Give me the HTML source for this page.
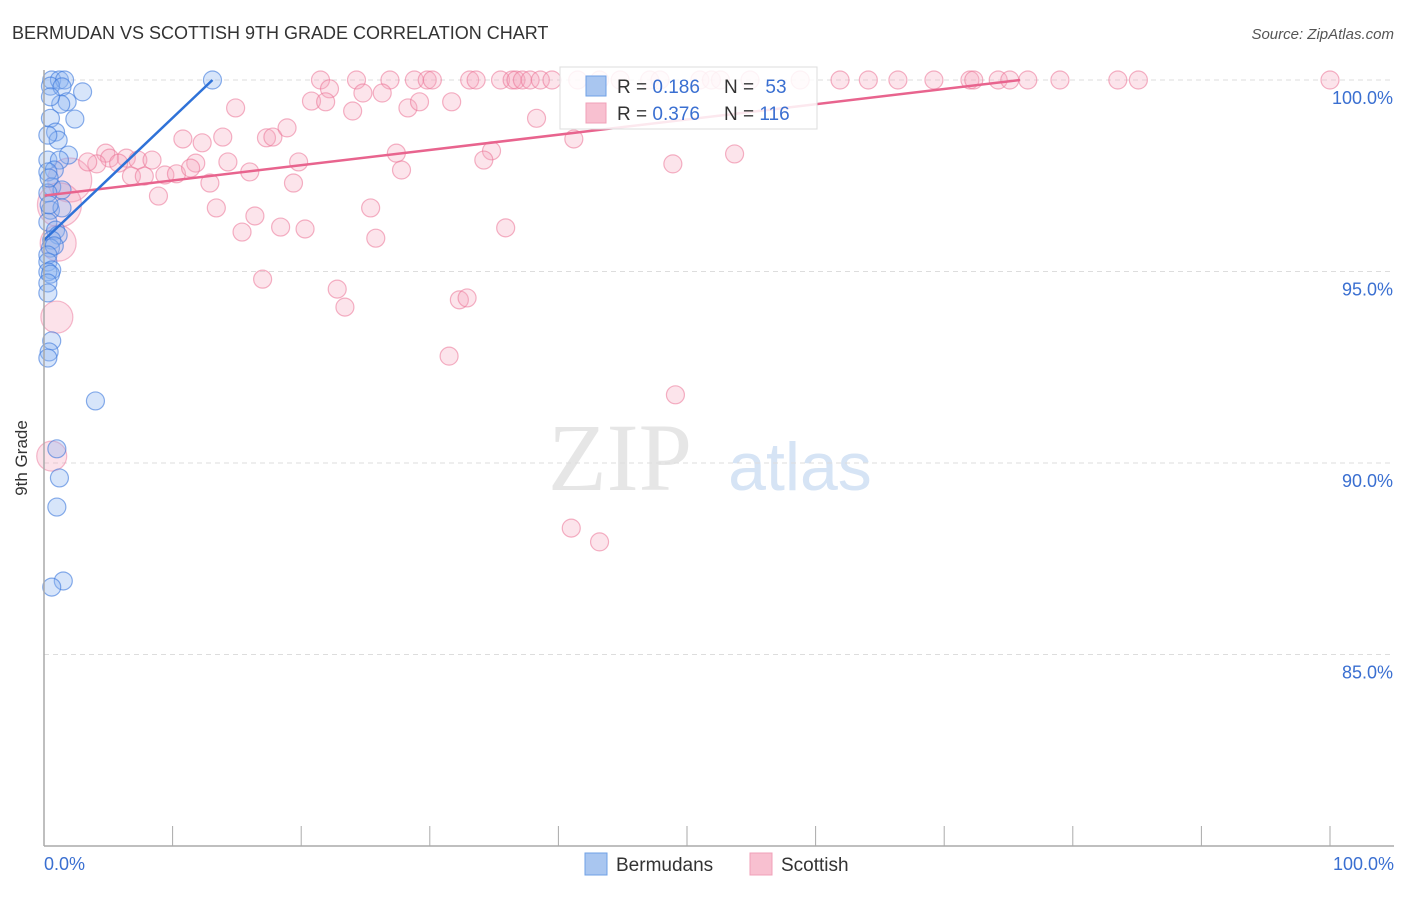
<!DOCTYPE html>
<html><head><meta charset="utf-8"><style>
body{margin:0;background:#fff;font-family:"Liberation Sans",sans-serif;}
svg text{font-family:"Liberation Sans",sans-serif;}
</style></head><body>
<svg id="chart" width="1406" height="892">
<text x="12" y="39" font-size="18" fill="#333">BERMUDAN VS SCOTTISH 9TH GRADE CORRELATION CHART</text>
<text x="1394" y="39" font-size="15" fill="#555" font-style="italic" text-anchor="end">Source: ZipAtlas.com</text>
<text x="620" y="490" font-size="96" fill="#e6e6e6" font-family="Liberation Serif" text-anchor="middle" style="font-family:'Liberation Serif',serif">ZIP</text>
<text x="800" y="490" font-size="68" fill="#d6e4f5" text-anchor="middle">atlas</text>
<g id="grid"></g>
<g id="pts"></g>
<g id="lines"></g>
<line x1="44" y1="70" x2="44" y2="846" stroke="#aaa" stroke-width="1.5"/>
<line x1="44" y1="846" x2="1394" y2="846" stroke="#aaa" stroke-width="1.5"/>
<text x="27" y="458" font-size="17" fill="#333" text-anchor="middle" transform="rotate(-90 27 458)">9th Grade</text>
<text x="44" y="870" font-size="18" fill="#3a6fd1">0.0%</text>
<text x="1394" y="870" font-size="18" fill="#3a6fd1" text-anchor="end">100.0%</text>
<g>
<rect x="560" y="67" width="257" height="62" fill="#fff" fill-opacity="0.85" stroke="#ddd"/>
<rect x="586" y="76" width="20" height="20" fill="#a9c6f0" stroke="#6fa0e6"/>
<rect x="586" y="103" width="20" height="20" fill="#f8c0d0" stroke="#f0a0b8"/>
<text x="617" y="93" font-size="19" fill="#333">R = <tspan fill="#3a6fd1">0.186</tspan></text>
<text x="724" y="93" font-size="19" fill="#333">N = <tspan fill="#3a6fd1" dx="6">53</tspan></text>
<text x="617" y="120" font-size="19" fill="#333">R = <tspan fill="#3a6fd1">0.376</tspan></text>
<text x="724" y="120" font-size="19" fill="#333">N = <tspan fill="#3a6fd1">116</tspan></text>
</g>
<g>
<rect x="585" y="853" width="22" height="22" fill="#a9c6f0" stroke="#6fa0e6"/>
<text x="616" y="871" font-size="19" fill="#333">Bermudans</text>
<rect x="750" y="853" width="22" height="22" fill="#f8c0d0" stroke="#f0a0b8"/>
<text x="781" y="871" font-size="19" fill="#333">Scottish</text>
</g>
</svg>
<script>
const yTicks=[100,95,90,85];
const yTickLabels=["100.0%","95.0%","90.0%","85.0%"];
const xTickVals=[0,10,20,30,40,50,60,70,80,90,100];
const bermX=[0.6,1.2,1.6,0.5,1.4,3.0,1.8,1.3,2.4,0.5,0.9,1.1,1.9,0.3,1.2,0.8,0.3,0.6,1.4,0.3,0.5,1.4,0.3,0.9,1.1,0.6,0.5,0.8,0.3,0.3,0.6,0.3,0.5,0.3,0.3,0.6,0.4,0.3,4.0,1.0,1.2,1.0,1.5,0.6,13.1,0.5,0.3,0.4,0.4];
const bermY=[100,100,100,99.84,99.82,99.69,99.43,99.37,98.98,99.0,98.64,98.43,98.04,97.91,97.91,97.65,97.6,97.21,97.13,97.05,96.6,96.66,96.29,96.08,95.95,95.82,95.61,95.67,95.43,95.25,95.04,94.99,94.93,94.7,94.44,93.19,92.9,92.74,91.62,90.37,89.61,88.85,86.92,86.76,100,99.56,98.56,97.44,96.74];
const scotX=[21.5,24.3,26.9,28.8,29.8,30.2,33.1,33.6,35.5,36.4,36.7,37.2,37.8,38.6,39.5,41.5,43.2,44.8,47.1,47.9,51.0,51.9,52.6,54.9,58.8,61.9,64.1,66.4,69.2,72.0,72.3,74.2,75.1,76.5,79.0,83.5,85.1,100,
22.2,24.8,26.3,20.8,21.9,14.9,28.3,29.2,31.7,24.0,38.3,41.2,10.8,13.9,12.3,17.3,17.8,18.9,4.8,5.1,4.1,3.4,6.4,5.8,7.3,8.4,11.8,14.3,19.8,27.4,34.8,34.2,27.8,48.9,53.7,6.8,7.8,9.4,10.3,11.4,16.0,12.9,19.4,8.9,13.4,16.4,15.4,18.4,20.3,25.4,25.8,35.9,17.0,22.8,23.4,32.3,32.9,31.5,49.1,41.0,43.2];
const scotY=[100,100,100,100,100,100,100,100,100,100,100,100,100,100,100,100,100,100,100,100,100,100,100,100,100,100,100,100,100,100,100,100,100,100,100,100,100,100,
99.77,99.66,99.66,99.45,99.43,99.27,99.27,99.43,99.43,99.19,99.0,98.46,98.46,98.51,98.36,98.49,98.51,98.75,98.09,97.96,97.81,97.86,97.96,97.83,97.91,97.91,97.83,97.86,97.86,98.09,98.15,97.91,97.65,97.81,98.07,97.49,97.49,97.52,97.55,97.7,97.6,97.31,97.31,96.97,96.66,96.45,96.03,96.16,96.11,96.66,95.87,96.14,94.8,94.54,94.07,94.26,94.31,92.79,91.78,88.3,87.94];
const bigScotX=[2.0,1.2,1.1,1.0,0.6];
const bigScotY=[97.39,96.74,95.74,93.81,90.18];
const bigScotR=[22,22,18,16,15];
const bermLine=[[0,95.82],[13.1,100]];
const scotLine=[[0,96.98],[75.9,100]];
const xs=v=>44+v*12.86;
const ys=v=>80+(100-v)*38.3;
const NS="http://www.w3.org/2000/svg";
const grid=document.getElementById('grid'),pts=document.getElementById('pts'),lines=document.getElementById('lines'),svg=document.getElementById('chart');
yTicks.forEach((t,i)=>{
 const l=document.createElementNS(NS,'line');
 l.setAttribute('x1',44);l.setAttribute('x2',1394);l.setAttribute('y1',ys(t));l.setAttribute('y2',ys(t));
 l.setAttribute('stroke','#ddd');l.setAttribute('stroke-dasharray','5,4');
 
 
 grid.appendChild(l);
 const tx=document.createElementNS(NS,'text');
 tx.setAttribute('x',1393);tx.setAttribute('y',ys(t)+24);tx.setAttribute('text-anchor','end');
 tx.setAttribute('font-size','18');tx.setAttribute('fill','#3a6fd1');tx.textContent=yTickLabels[i];
 
 
 svg.appendChild(tx);
});
xTickVals.forEach(t=>{
 const l=document.createElementNS(NS,'line');
 l.setAttribute('x1',xs(t));l.setAttribute('x2',xs(t));l.setAttribute('y1',826);l.setAttribute('y2',846);
 l.setAttribute('stroke','#aaa');
 
 
 grid.appendChild(l);
});
function dot(x,y,r,fill,stroke,name){
 const c=document.createElementNS(NS,'circle');
 c.setAttribute('cx',xs(x));c.setAttribute('cy',ys(y));c.setAttribute('r',r);
 c.setAttribute('fill',fill);c.setAttribute('stroke',stroke);c.setAttribute('stroke-width','1.2');
 
 
 pts.appendChild(c);
}
bigScotX.forEach((x,i)=>dot(x,bigScotY[i],bigScotR[i],'rgba(245,160,185,0.3)','rgba(235,120,155,0.5)','scottish-point-large'));
scotX.forEach((x,i)=>dot(x,scotY[i],9,'rgba(245,165,190,0.3)','rgba(235,115,150,0.55)','scottish-point'));
bermX.forEach((x,i)=>dot(x,bermY[i],9,'rgba(140,180,240,0.35)','rgba(60,120,220,0.6)','bermudan-point'));
function ln(p,color,name){
 const l=document.createElementNS(NS,'line');
 l.setAttribute('x1',xs(p[0][0]));l.setAttribute('y1',ys(p[0][1]));
 l.setAttribute('x2',xs(p[1][0]));l.setAttribute('y2',ys(p[1][1]));
 l.setAttribute('stroke',color);l.setAttribute('stroke-width','2.5');
 
 
 lines.appendChild(l);
}
ln(scotLine,'#e8648e','scottish-trend-line');
ln(bermLine,'#2f72d8','bermudan-trend-line');
</script>
</body></html>
